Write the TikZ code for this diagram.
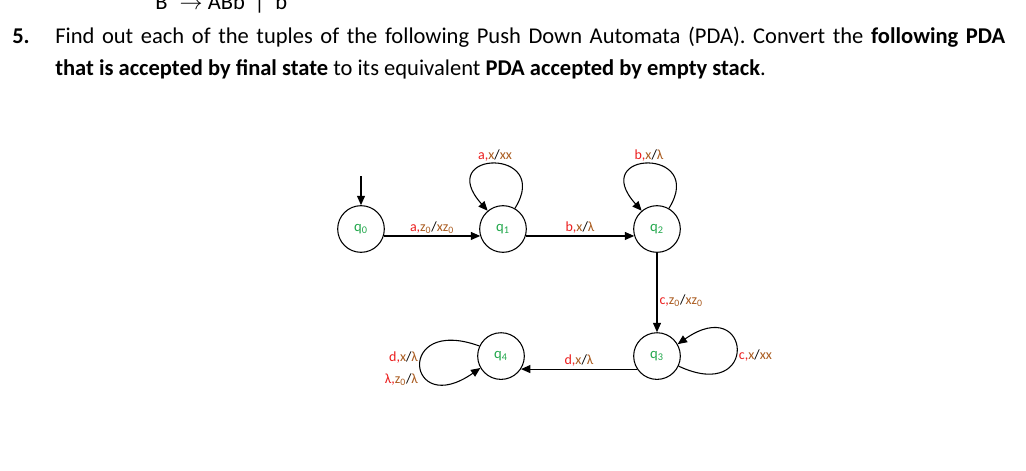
\documentclass[tikz,border=0pt]{standalone}
\usepackage{fontspec}
\setmainfont{Carlito}
\usepackage{xcolor}
\usepackage{tikz}
\usetikzlibrary{positioning,arrows.meta}
\definecolor{inred}{RGB}{236,30,30}
\definecolor{stkbrown}{RGB}{170,92,32}
\definecolor{stgreen}{RGB}{34,168,76}
\tikzset{
  state/.style={circle, draw, line width=0.8pt, minimum size=35pt, inner sep=0pt,
                font=\fontsize{11}{12}\selectfont, text=stgreen},
  edge/.style={-{Triangle[length=7pt,width=6pt]}, line width=0.8pt},
  lbl/.style={font=\fontsize{10.5}{16.5}\selectfont, inner sep=1.5pt},
  ttl/.style={font=\fontsize{16.9}{20}\selectfont, anchor=base west, inner sep=0pt}
}
\newcommand{\trlabel}[3]{\textcolor{inred}{#1,}\textcolor{stkbrown}{#2}/\textcolor{stkbrown}{#3}}
\newcommand{\zsub}{z\textsubscript{0}}

\begin{document}
\begin{tikzpicture}[x=0.75pt, y=0.75pt]
    \useasboundingbox (0,0) rectangle (1026,-471);
    \fill[white] (0,0) rectangle (1026,-471);
    % question text
    \node[ttl] (prev) at (155,-9) {B\hspace{9pt}$\rightarrow$\hspace{4pt}ABb\hspace{7pt}|\hspace{8pt}b};
    \node[ttl] (num) at (12,-43) {\textbf{5.}};
    \node[ttl] (line1) at (55,-43) {\makebox[712.5pt][s]{Find out each of the tuples of the following Push Down Automata (PDA). Convert the \textbf{following PDA}}};
    \node[ttl] (line2) at (55,-75) {\textbf{that is accepted by final state} to its equivalent \textbf{PDA accepted by empty stack}.};
    % states
    \node[state] at (361,-229) (q0) {q\textsubscript{0}};
    \node[state, right=70.7pt of q0] (q1) {q\textsubscript{1}};
    \node[state, right=79.7pt of q1] (q2) {q\textsubscript{2}};
    \node[state, below=59.5pt of q2] (q3) {q\textsubscript{3}};
    \node[state, left=81.2pt of q3] (q4) {q\textsubscript{4}};
    \coordinate[above=21.5pt of q0] (init);
    % transitions
    \draw[edge] (init) -- (q0);
    \draw[edge] (q0.-17) -- node[lbl, above] {\trlabel{a}{\zsub}{x\zsub}} (q1.197);
    \draw[edge] (q1.-17) -- node[lbl, above] {\trlabel{b}{x}{λ}} (q2.197);
    \draw[edge] (q2) -- node[lbl, right, pos=0.6] {\trlabel{c}{\zsub}{x\zsub}} (q3);
    \draw[edge] (q3.213) -- node[lbl, above] {\trlabel{d}{x}{λ}} (q4.-33);
    \draw[edge] (q1.60) .. controls +(58:72) and +(132:82) .. node[lbl, above] {\trlabel{a}{x}{xx}} (q1.130);
    \draw[edge] (q2.60) .. controls +(58:72) and +(132:82) .. node[lbl, above] {\trlabel{b}{x}{λ}} (q2.130);
    \draw[edge] (q3.-25) .. controls +(-25:90) and +(35:90) .. node[lbl, right, yshift=-4pt] {\trlabel{c}{x}{xx}} (q3.30);
    \draw[edge] (q4.155) .. controls +(160:90) and +(215:90) .. node[lbl, left, align=right, yshift=-3pt] {\trlabel{d}{x}{λ}\\\trlabel{λ}{\zsub}{λ}} (q4.210);
\end{tikzpicture}
\end{document}
